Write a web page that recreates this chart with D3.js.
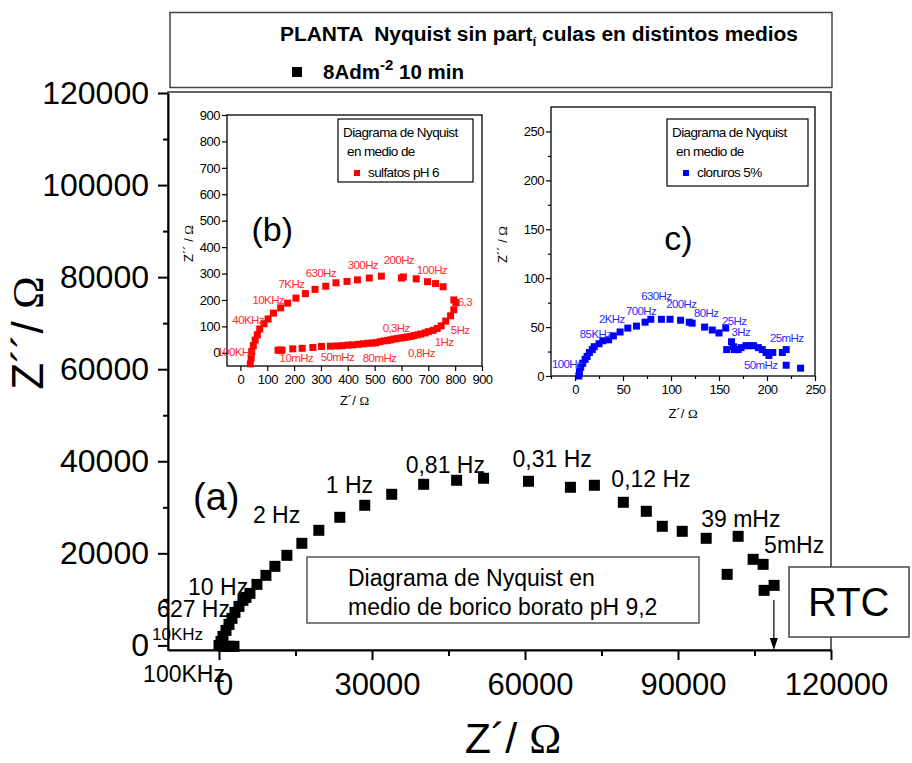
<!DOCTYPE html>
<html><head><meta charset="utf-8">
<script src="https://cdn.jsdelivr.net/npm/d3@7"></script>
<style>
body{margin:0;background:#fff;}
svg{display:block;font-family:"Liberation Sans",Arial,sans-serif;}
text{white-space:pre;}
</style></head><body>
<svg id="chart" width="912" height="763"></svg>
<script>
// ---------- DATA ----------
// (a) borico borato pH 9,2 (main plot)
const boricoRe = [2936,1958,979,0,392,783,1370,1958,2545,3132,3915,4698,5286,6069,7439,9201,10963,13312,16248,19576,23687,28581,33866,40131,46591,51876,60685,68907,73605,79283,83785,86917,90832,95530,99641,101794,104731,106688,106884,108842];
const boricoIm = [-200,-200,-200,0,870,1957,3261,4565,5870,7174,8478,9783,10435,11304,13261,15217,17174,19565,22174,25000,27826,30435,32826,35000,35870,36304,35652,34348,34783,31087,29130,25870,24783,23261,15435,23696,18696,17609,11957,13043];
const boricoLabels = ["100KHz","10KHz","627 Hz","10 Hz","2 Hz","1 Hz","0,81 Hz","0,31 Hz","0,12 Hz","39 mHz","5mHz"];
const boricoLabelRe = [-14878,-13116,-12137,-6069,6656,20946,36607,57553,76934,94552,106885];
const boricoLabelIm = [-8043,1087,6087,10870,26522,33043,37391,38696,34348,25652,20000];
const rtcValue = 108800;

// (b) sulfatos pH 6
const sulfatosRe = [37,40,42,48,55,63,72,88,103,123,150,176,207,242,278,318,356,397,436,480,525,600,607,655,697,727,755,795,803,795,783,765,748,733,718,700,688,672,660,647,635,622,610,598,585,572,560,548,535,520,505,492,475,458,440,418,400,380,360,335,302,270,230,195,155,148,140];
const sulfatosIm = [-42,-18,5,27,48,68,90,110,128,150,170,188,207,224,240,252,265,270,276,283,290,283,287,280,269,262,250,200,190,163,140,120,102,92,85,80,75,71,68,65,62,60,58,56,54,52,49,47,45,42,38,37,36,34,32,30,29,27,26,25,24,20,17,15,10,10,10];
const sulfatosLabels = ["100KHz","40KHz","10KHz","7KHz","630Hz","300Hz","200Hz","100Hz","6,3","0,3Hz","5Hz","1Hz","0,8Hz","80mHz","50mHz","10mHz"];
const sulfatosLabelRe = [-86,-30,45,142,243,400,534,657,810,530,784,724,624,456,299,146];
const sulfatosLabelIm = [-11,110,186,246,288,318,337,299,178,80,72,27,-15,-34,-30,-34];

// (c) cloruros 5%
const clorurosRe = [4,4.6,6,8,10.5,12.6,15,18,20,25,29,35,40,47,55,64,73,79,90,99,110,119,122,135,143,150,157,158,163,165,166,170,173,178,182,186,191,195,199,202,206,216,220,220,235];
const clorurosIm = [0,4.4,9,13,17,20,24,27,30,33,36,37,41,45,49,51,55,58,58,58,57,55,54,50,47,44,49,27,35,30,27,27,29,31,31,31,29,27,24,21,24,24,27,11,8];
const clorurosLabels = ["100Hz","85KHz","2KHz","700Hz","630Hz","200Hz","80Hz","25Hz","3Hz","25mHz","50mHz"];
const clorurosLabelRe = [-24,5,25,53,69,95,124,153,163,203,176];
const clorurosLabelIm = [8,39,54,62,78,70,60,52,41,35,7];

// ticks
const mainXTicks = [0,30000,60000,90000,120000];
const mainXMinor = [15000,45000,75000,105000];
const mainYTicks = [0,20000,40000,60000,80000,100000,120000];
const mainYMinor = [10000,30000,50000,70000,90000,110000];
const bTicks = [0,100,200,300,400,500,600,700,800,900];
const cXTicks = [0,50,100,150,200,250];
const cXMinor = [-25,25,75,125,175,225];
const cYTicks = [0,50,100,150,200,250];
const cYMinor = [25,75,125,175,225];

// ---------- DRAW ----------
const svg = d3.select("#chart");
svg.append("rect").attr("width",912).attr("height",763).attr("fill","#fff");

// header box
svg.append("rect").attr("x",170).attr("y",12.5).attr("width",662).attr("height",75)
  .attr("fill","#fff").attr("stroke","#444").attr("stroke-width",1.5);
const title = svg.append("text").attr("x",280).attr("y",41).attr("font-size",20).attr("font-weight","bold")
  .attr("textLength",518).attr("lengthAdjust","spacingAndGlyphs");
title.append("tspan").text("PLANTA  Nyquist sin part");
title.append("tspan").attr("dy",5).attr("font-size",13).text("í");
title.append("tspan").attr("dy",-5).text(" culas en distintos medios");
svg.append("rect").attr("x",292).attr("y",67).attr("width",10).attr("height",10).attr("fill","#000");
const leg = svg.append("text").attr("x",323).attr("y",79).attr("font-size",20.5).attr("font-weight","bold");
leg.append("tspan").text("8Adm");
leg.append("tspan").attr("dy",-9).attr("font-size",15).text("-2");
leg.append("tspan").attr("dy",9).text(" 10 min");

// main scales
const x = d3.scaleLinear().domain([-10000,120000]).range([168,831]);
const y = d3.scaleLinear().domain([-1000,120000]).range([650,93]);

svg.append("rect").attr("x",168).attr("y",92).attr("width",663).attr("height",558)
  .attr("fill","none").attr("stroke","#333").attr("stroke-width",1.5);

function styleAxis(g, fs, sw){
  g.selectAll("text").attr("font-size",fs).attr("font-family","Liberation Sans, Arial, sans-serif").attr("fill","#000");
  g.selectAll("path,line").attr("stroke","#000").attr("stroke-width",sw);
}

const gx = svg.append("g").attr("transform","translate(0,650)")
  .call(d3.axisBottom(x).tickValues(mainXTicks).tickSize(10).tickSizeOuter(0).tickPadding(13).tickFormat(d3.format("d")));
styleAxis(gx,31,2); gx.selectAll("text").attr("dx",5);
const gxm = svg.append("g").attr("transform","translate(0,650)")
  .call(d3.axisBottom(x).tickValues(mainXMinor).tickSize(6).tickSizeOuter(0).tickFormat(""));
styleAxis(gxm,31,2); gxm.select(".domain").remove();

const gy = svg.append("g").attr("transform","translate(168,0)")
  .call(d3.axisLeft(y).tickValues(mainYTicks).tickSize(10).tickSizeOuter(0).tickPadding(9).tickFormat(d3.format("d")));
styleAxis(gy,32,2);
const gym = svg.append("g").attr("transform","translate(168,0)")
  .call(d3.axisLeft(y).tickValues(mainYMinor).tickSize(5).tickSizeOuter(0).tickFormat(""));
styleAxis(gym,31,2); gym.select(".domain").remove();

// axis titles
const xt = svg.append("text").attr("x",513).attr("y",753).attr("text-anchor","middle").attr("font-size",43);
xt.append("tspan").text("Z´/ ");
xt.append("tspan").attr("font-family","Liberation Serif, Times New Roman, serif").text("Ω");
const yt = svg.append("text").attr("transform","translate(43,333) rotate(-90)").attr("text-anchor","middle").attr("font-size",44);
yt.append("tspan").text("Z´´/ ");
yt.append("tspan").attr("font-family","Liberation Serif, Times New Roman, serif").text("Ω");

// main points
const mainPts = d3.zip(boricoRe, boricoIm);
svg.append("g").selectAll("rect").data(mainPts).join("rect")
  .attr("x",d=>x(d[0])-5.5).attr("y",d=>y(d[1])-5.5).attr("width",11).attr("height",11).attr("fill","#000");

// main labels
svg.append("g").selectAll("text").data(d3.zip(boricoLabels,boricoLabelRe,boricoLabelIm)).join("text")
  .attr("x",d=>x(d[1])).attr("y",d=>y(d[2]))
  .attr("font-size",d=>d[0]==="10KHz"?17:23).text(d=>d[0]);
svg.append("text").attr("x",x(-5090)).attr("y",y(29348)).attr("font-size",38).text("(a)");

// legend box (a)
svg.append("rect").attr("x",307).attr("y",557).attr("width",392).attr("height",66)
  .attr("fill","#fff").attr("stroke","#555").attr("stroke-width",1.5);
svg.append("text").attr("x",348).attr("y",586).attr("font-size",23).text("Diagrama de Nyquist en");
svg.append("text").attr("x",348).attr("y",615).attr("font-size",23).text("medio de borico borato pH 9,2");

// RTC
svg.append("rect").attr("x",789).attr("y",567).attr("width",120).attr("height",70)
  .attr("fill","#fff").attr("stroke","#444").attr("stroke-width",1.5);
svg.append("text").attr("x",808).attr("y",616).attr("font-size",40).text("RTC");
const ax = x(rtcValue);
svg.append("line").attr("x1",ax).attr("x2",ax).attr("y1",600).attr("y2",642).attr("stroke","#000").attr("stroke-width",1.2);
svg.append("path").attr("d",`M${ax-4},638 L${ax+4},638 L${ax},650 Z`).attr("fill","#000");

// ---------- inset builder ----------
function inset(o){
  const g = svg.append("g");
  const xs = d3.scaleLinear().domain(o.xd).range([o.l,o.r]);
  const ys = d3.scaleLinear().domain(o.yd).range([o.b,o.t]);
  g.append("rect").attr("x",o.l).attr("y",o.t).attr("width",o.r-o.l).attr("height",o.b-o.t)
    .attr("fill","#fff").attr("stroke","#000").attr("stroke-width",1.3);
  const ax1 = g.append("g").attr("transform",`translate(0,${o.b})`)
    .call(d3.axisBottom(xs).tickValues(o.xt).tickSize(5).tickSizeOuter(0).tickPadding(4));
  styleAxis(ax1,13,1.2); ax1.select(".domain").remove();
  const ay1 = g.append("g").attr("transform",`translate(${o.l},0)`)
    .call(d3.axisLeft(ys).tickValues(o.yt).tickSize(5).tickSizeOuter(0).tickPadding(2));
  styleAxis(ay1,13,1.2); ay1.select(".domain").remove();
  if(o.xm){ const m=g.append("g").attr("transform",`translate(0,${o.b})`).call(d3.axisBottom(xs).tickValues(o.xm).tickSize(3).tickFormat(""));
    styleAxis(m,13,1.2); m.select(".domain").remove(); }
  if(o.ym){ const m=g.append("g").attr("transform",`translate(${o.l},0)`).call(d3.axisLeft(ys).tickValues(o.ym).tickSize(3).tickFormat(""));
    styleAxis(m,13,1.2); m.select(".domain").remove(); }
  [ax1,ay1].forEach(a=>a.selectAll("text").attr("letter-spacing",-0.5));
  // axis titles
  const tx = g.append("text").attr("x",(o.l+o.r)/2).attr("y",o.xlabY).attr("text-anchor","middle").attr("font-size",13);
  tx.append("tspan").text("Z´/ "); tx.append("tspan").attr("font-family","Liberation Serif, serif").text("Ω");
  const ty = g.append("text").attr("transform",`translate(${o.ylabX},${(o.t+o.b)/2+3}) rotate(-90)`).attr("text-anchor","middle").attr("font-size",13);
  ty.append("tspan").text("Z´´ / "); ty.append("tspan").attr("font-family","Liberation Serif, serif").text("Ω");
  // points
  g.append("g").selectAll("rect").data(d3.zip(o.re,o.im)).join("rect")
    .attr("x",d=>xs(d[0])-3.5).attr("y",d=>ys(d[1])-3.5).attr("width",7).attr("height",7).attr("fill",o.color);
  g.append("g").selectAll("text").data(d3.zip(o.lab,o.labRe,o.labIm)).join("text")
    .attr("x",d=>xs(d[1])).attr("y",d=>ys(d[2])).attr("font-size",11.5).attr("letter-spacing",-0.6)
    .attr("fill",o.lcolor).text(d=>d[0]);
  g.append("text").attr("x",xs(o.tag[1])).attr("y",ys(o.tag[2])).attr("font-size",34).text(o.tag[0]);
  // legend
  const L=o.leg;
  g.append("rect").attr("x",L.x).attr("y",L.y).attr("width",L.w).attr("height",L.h)
    .attr("fill","#fff").attr("stroke","#000").attr("stroke-width",1.2);
  g.append("text").attr("x",L.x+5).attr("y",L.y+18).attr("font-size",13.5).attr("letter-spacing",-0.6).text("Diagrama de Nyquist");
  g.append("text").attr("x",L.x+9).attr("y",L.y+37).attr("font-size",13.5).attr("letter-spacing",-0.6).text("en medio de");
  g.append("rect").attr("x",L.x+16).attr("y",L.y+51).attr("width",6).attr("height",6).attr("fill",o.color);
  g.append("text").attr("x",L.x+30).attr("y",L.y+58).attr("font-size",13.5).attr("letter-spacing",-0.6).text(o.legText);
}

inset({xd:[-50,900],yd:[-50,900],l:227,r:482,t:115,b:366,xt:bTicks,yt:bTicks,
  xlabY:405,ylabX:193,re:sulfatosRe,im:sulfatosIm,color:"#ff0000",lcolor:"#ff2a2a",
  lab:sulfatosLabels,labRe:sulfatosLabelRe,labIm:sulfatosLabelIm,tag:["(b)",41,424],
  leg:{x:338,y:119,w:135,h:63},legText:"sulfatos pH 6"});

inset({xd:[-25,250],yd:[0,275],l:551,r:815,t:107,b:376,xt:cXTicks,yt:cYTicks,xm:cXMinor,ym:cYMinor,
  xlabY:418,ylabX:507,re:clorurosRe,im:clorurosIm,color:"#0000ff",lcolor:"#2a2aff",
  lab:clorurosLabels,labRe:clorurosLabelRe,labIm:clorurosLabelIm,tag:["c)",93,129],
  leg:{x:667,y:119,w:141,h:67},legText:"cloruros 5%"});
</script>
</body></html>
